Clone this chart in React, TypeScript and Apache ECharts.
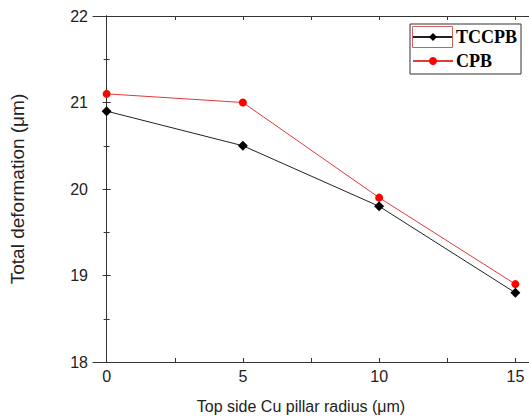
import React, { useEffect, useRef } from "react";
import * as echarts from "echarts";

const radius = [0, 5, 10, 15];
const radiusTicks = [0, 2.5, 5, 7.5, 10, 12.5, 15];
const tccpb = [20.9, 20.5, 19.8, 18.8];
const cpb = [21.1, 21.0, 19.9, 18.9];
const seriesNames = ["TCCPB", "CPB"];
const xTitle = "Top side Cu pillar radius (μm)";
const yTitle = "Total deformation (μm)";

export default function App() {
  const ref = useRef<HTMLDivElement>(null);
  useEffect(() => {
    document.body.style.margin = "0";
    const chart = echarts.init(ref.current!, null, { renderer: "svg" });
    const axisColor = "#333";
    const sansFont = "'Liberation Sans', Arial, sans-serif";
    const commonAxis = {
      axisLine: { show: true, lineStyle: { color: axisColor, width: 1 } },
      axisTick: { show: true, inside: true, length: 4, lineStyle: { color: axisColor } },
      minorTick: { show: true, splitNumber: 2, length: 3, lineStyle: { color: axisColor } },
      splitLine: { show: false },
    };
    chart.setOption({
      animation: false,
      backgroundColor: "#fff",
      grid: { left: 93, top: 16, width: 437, height: 346, containLabel: false },
      xAxis: [
        {
          type: "value",
          min: -0.5,
          max: 15.5,
          position: "bottom",
          ...commonAxis,
          axisLabel: {
            show: true,
            margin: 6,
            fontFamily: sansFont,
            fontSize: 16,
            color: "#222",
            customValues: radius,
          },
          axisTick: { ...commonAxis.axisTick, customValues: radiusTicks },
          minorTick: { show: false },
          name: xTitle,
          nameLocation: "middle",
          nameGap: 36,
          nameTextStyle: { fontFamily: sansFont, fontSize: 16, color: "#222", padding: [0, 20, 0, 0] },
        },
        {
          type: "value",
          min: -0.5,
          max: 15.5,
          position: "top",
          ...commonAxis,
          axisLabel: { show: false },
          axisTick: { ...commonAxis.axisTick, customValues: radiusTicks },
          minorTick: { show: false },
        },
      ],
      yAxis: [
        {
          type: "value",
          min: 18,
          max: 22,
          interval: 1,
          position: "left",
          ...commonAxis,
          axisLabel: { margin: 5, fontFamily: sansFont, fontSize: 16, color: "#222" },
          name: yTitle,
          nameLocation: "middle",
          nameGap: 66,
          nameRotate: 90,
          nameTextStyle: { fontFamily: sansFont, fontSize: 19, color: "#222" },
        },
        {
          type: "value",
          min: 18,
          max: 22,
          interval: 1,
          position: "right",
          ...commonAxis,
          axisLabel: { show: false },
        },
      ],
      legend: {
        orient: "vertical",
        left: 410,
        top: 24,
        padding: [4, 4, 4, 2],
        itemGap: 6,
        itemWidth: 40,
        itemHeight: 10,
        borderColor: "#333",
        borderWidth: 1,
        backgroundColor: "#fff",
        textStyle: {
          fontFamily: "'Liberation Serif', 'Times New Roman', serif",
          fontWeight: "bold",
          fontSize: 18,
          color: "#000",
          padding: [0, 0, 0, -2],
        },
        data: seriesNames,
      },
      series: [
        {
          name: seriesNames[0],
          type: "line",
          data: radius.map((r, i) => [r, tccpb[i]]),
          symbol: "diamond",
          symbolSize: 10,
          lineStyle: { color: "#222", width: 1 },
          itemStyle: { color: "#000" },
          z: 3,
        },
        {
          name: seriesNames[1],
          type: "line",
          data: radius.map((r, i) => [r, cpb[i]]),
          symbol: "circle",
          symbolSize: 8,
          lineStyle: { color: "#e03a3a", width: 1 },
          itemStyle: { color: "#ff0000" },
          z: 2,
        },
      ],
      graphic: [
        {
          type: "rect",
          shape: { x: 412.5, y: 26.5, width: 40, height: 21 },
          style: { fill: "none", stroke: "#d06060", lineWidth: 1 },
          z: 100,
        },
      ],
    });
    return () => chart.dispose();
  }, []);
  return <div ref={ref} style={{ width: 529, height: 419 }} />;
}
